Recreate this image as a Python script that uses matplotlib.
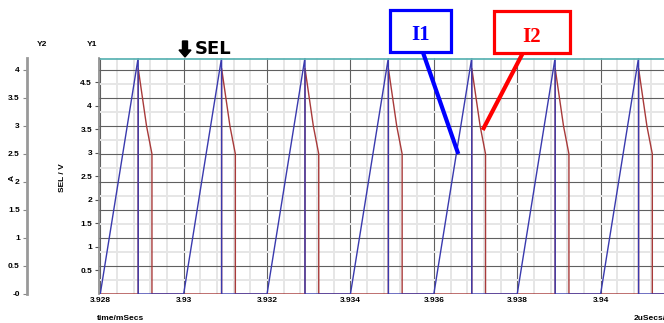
import matplotlib
matplotlib.use("Agg")
import matplotlib.pyplot as plt
from matplotlib.patches import Rectangle
from matplotlib.ticker import MultipleLocator

# time in mSecs, currents in A (Y2), SEL in V (Y1)
cycle_start = [3.928, 3.930, 3.932, 3.934, 3.936, 3.938, 3.940]
i1_peak_t = [3.92891, 3.93091, 3.93291, 3.93491, 3.93691, 3.93891, 3.94091]
i1_peak = [4.22, 4.22, 4.22, 4.22, 4.22, 4.22, 4.22]
i2_knee_t = [3.92911, 3.93111, 3.93311, 3.93511, 3.93711, 3.93911, 3.94111]
i2_end_t = [3.92924, 3.93124, 3.93324, 3.93524, 3.93724, 3.93924, 3.94124]
i2_top = [4.03, 4.03, 4.03, 4.03, 4.03, 4.03, 4.03]
i2_knee = [3.0, 3.0, 3.0, 3.0, 3.0, 3.0, 3.0]
i2_end = [2.5, 2.5, 2.5, 2.5, 2.5, 2.5, 2.5]
sel_level = 5.0

x_ticks = [3.928, 3.930, 3.932, 3.934, 3.936, 3.938, 3.940]
x_labels = ["3.928", "3.93", "3.932", "3.934", "3.936", "3.938", "3.94"]
y2_ticks = [0, 0.5, 1, 1.5, 2, 2.5, 3, 3.5, 4]
y2_labels = ["-0", "0.5", "1", "1.5", "2", "2.5", "3", "3.5", "4"]
y1_ticks = [0.5, 1, 1.5, 2, 2.5, 3, 3.5, 4, 4.5]
y1_labels = ["0.5", "1", "1.5", "2", "2.5", "3", "3.5", "4", "4.5"]

x_min, x_max = 3.92797, 3.94152

# build the polylines from the cycle points
i1_x, i1_y = [], []
for s, p, v in zip(cycle_start, i1_peak_t, i1_peak):
    i1_x += [s, p, p]
    i1_y += [0, v, 0]
i1_x.append(x_max + 0.001)
i1_y.append(0)

i2_x, i2_y = [x_min], [0]
for p, k, e, a, b, c in zip(i1_peak_t, i2_knee_t, i2_end_t, i2_top, i2_knee, i2_end):
    i2_x += [p, p, k, e, e]
    i2_y += [0, a, b, c, 0]
i2_x.append(x_max + 0.001)
i2_y.append(0)

font = {"family": "Liberation Sans", "weight": "bold", "size": 6}

fig = plt.figure(figsize=(6.64, 3.23), dpi=100)
ax = fig.add_axes([99 / 664, 29 / 323, 565 / 664, 236 / 323])
for s in ["top", "right", "bottom"]:
    ax.spines[s].set_visible(False)
ax.spines["left"].set_position(("outward", 52))
ax.spines["left"].set_color("#999999")
ax.spines["left"].set_linewidth(2)
ax.set_xlim(x_min, x_max)
ax.set_ylim(0, 4.214)

ax.xaxis.set_minor_locator(MultipleLocator(0.0004))
ax.yaxis.set_minor_locator(MultipleLocator(0.25))
ax.set_xticks(x_ticks)
ax.set_xticklabels(x_labels, fontdict=font)
ax.set_yticks(y2_ticks)
ax.set_yticklabels(y2_labels, fontdict=font)
ax.grid(which="minor", color="#e6e6e6", lw=1.4)
ax.grid(which="major", color="#606060", lw=0.8)
ax.set_axisbelow(True)
ax.tick_params(axis="x", which="both", length=0, pad=2)
ax.tick_params(axis="y", which="minor", length=0)
ax.tick_params(axis="y", which="major", length=3, color="#888888", pad=2)

ax.plot(i2_x, i2_y, color="#a83a3a", lw=1.0)
ax.plot(i1_x, i1_y, color="#3a3aae", lw=1.0)

# Y1 axis for SEL
ax1 = ax.twinx()
for s in ["top", "right", "bottom"]:
    ax1.spines[s].set_visible(False)
ax1.spines["left"].set_color("#888888")
ax1.spines["left"].set_linewidth(1.2)
ax1.set_ylim(0, 5.02)
ax1.yaxis.tick_left()
ax1.set_yticks(y1_ticks)
ax1.set_yticklabels(y1_labels, fontdict=font)
ax1.tick_params(axis="y", length=3, color="#555555", pad=2)
ax1.axhline(sel_level, color="#5fb5b5", lw=1.3)

fig.text(42 / 664, 1 - 45 / 323, "Y2", ha="center", va="center", **font)
fig.text(92 / 664, 1 - 45 / 323, "Y1", ha="center", va="center", **font)
fig.text(12 / 664, 1 - 178 / 323, "A", ha="center", va="center", rotation=90, **font)
fig.text(63 / 664, 1 - 178 / 323, "SEL / V", ha="center", va="center", rotation=90, **font)
fig.text(97 / 664, 1 - 318 / 323, "time/mSecs", ha="left", va="center", **font)
fig.text(634 / 664, 1 - 318 / 323, "2uSecs/div", ha="left", va="center", **font)

# overlay in pixel coordinates for the callouts
ov = fig.add_axes([0, 0, 1, 1])
ov.set_xlim(0, 664)
ov.set_ylim(323, 0)
ov.axis("off")
ov.patch.set_alpha(0)

ov.arrow(185, 41, 0, 16, width=5, head_width=12, head_length=7,
         length_includes_head=True, color="black")
ov.text(195, 49, "SEL", ha="left", va="center", fontsize=13,
        fontweight="bold", family="DejaVu Sans")

ov.add_patch(Rectangle((390, 9.5), 61, 42, fc="white", ec="#0000ff", lw=2.3))
ov.text(420.5, 35, "I1", ha="center", va="center", color="#0000ff",
        fontsize=15, fontweight="bold", family="Liberation Serif")
ov.plot([422.7, 458.3], [51.7, 154], color="#0000ff", lw=3, solid_capstyle="butt")

ov.add_patch(Rectangle((494, 11), 76, 42, fc="white", ec="#ff0000", lw=2.3))
ov.text(532, 37, "I2", ha="center", va="center", color="#ff0000",
        fontsize=15, fontweight="bold", family="Liberation Serif")
ov.plot([522.7, 482.7], [53.3, 130], color="#ff0000", lw=3, solid_capstyle="butt")

fig.savefig("out.png", dpi=100)
